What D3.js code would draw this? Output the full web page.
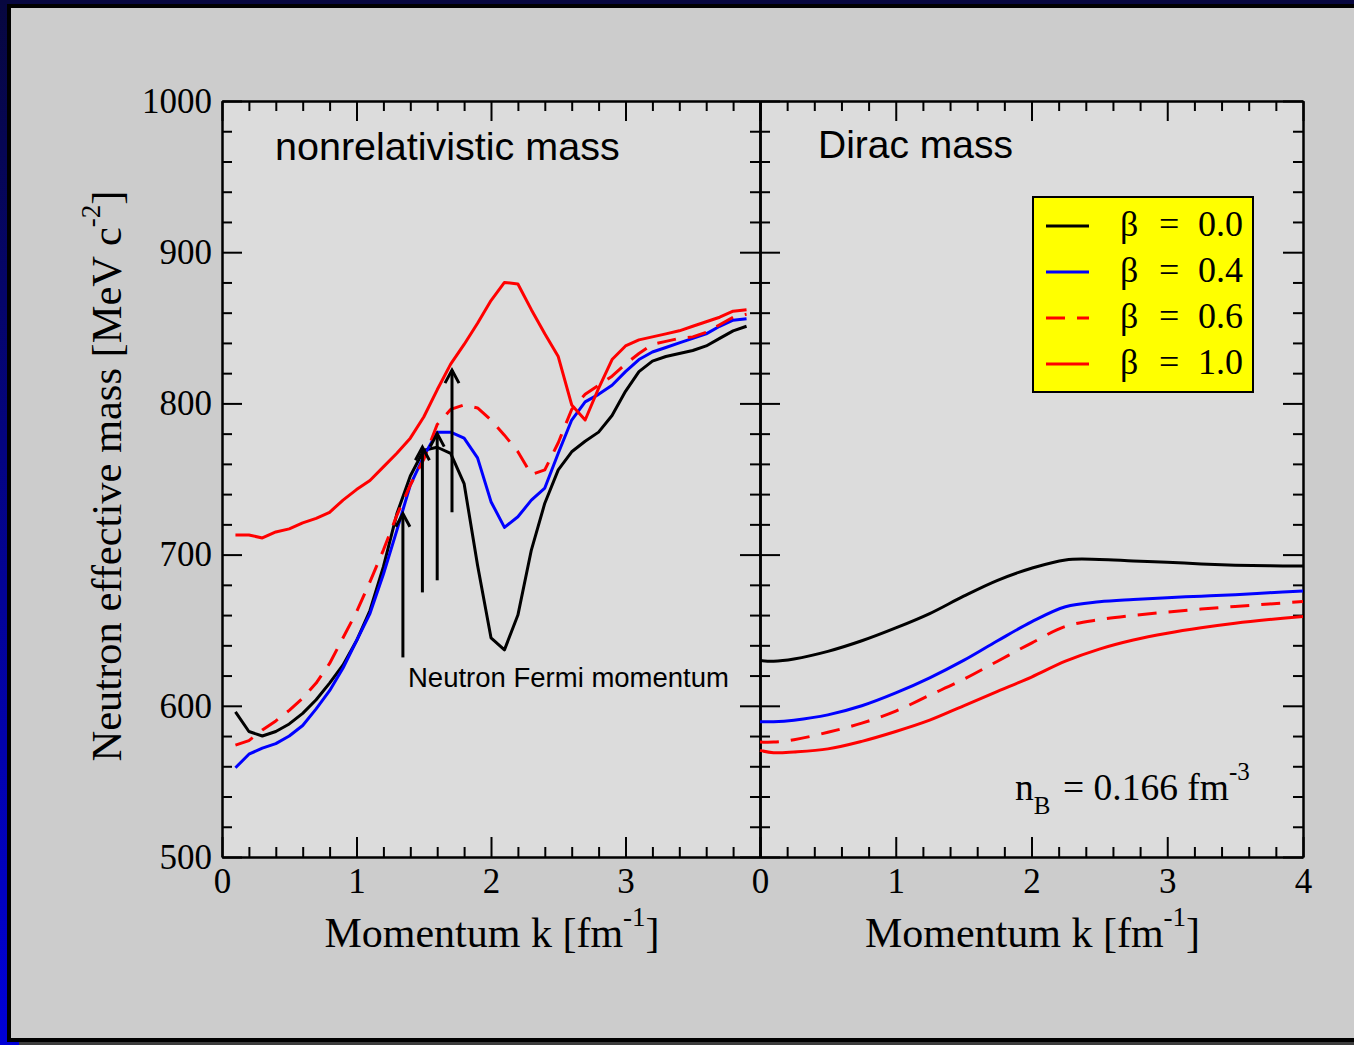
<!DOCTYPE html>
<html>
<head>
<meta charset="utf-8">
<script src="https://cdn.jsdelivr.net/npm/d3@7"></script>
<style>
  body { margin: 0; background: #cccccc; }
  svg { display: block; }
</style>
</head>
<body>
<svg id="chart" width="1354" height="1045"></svg>
<script>
// ---- data ----
// left panel: nonrelativistic mass, k in fm^-1, mass in MeV c^-2
const kLeft = [0.1, 0.2, 0.3, 0.4, 0.5, 0.6, 0.7, 0.8, 0.9, 1.0,
               1.1, 1.2, 1.3, 1.4, 1.5, 1.6, 1.7, 1.8, 1.9, 2.0,
               2.1, 2.2, 2.3, 2.4, 2.5, 2.6, 2.7, 2.8, 2.9, 3.0,
               3.1, 3.2, 3.3, 3.4, 3.5, 3.6, 3.7, 3.8, 3.9];
const nrBeta00 = [596, 583, 580, 583, 588, 595, 604, 615, 627, 643,
                  663, 692, 727, 752, 769, 771, 767, 747, 693, 645,
                  637, 660, 703, 734, 756, 768, 775, 781, 792, 808,
                  821, 828, 831, 833, 835, 838, 843, 848, 851];
const nrBeta04 = [559, 568, 572, 575, 580, 587, 598, 610, 625, 643,
                  661, 687, 716, 746, 765, 781, 781, 777, 764, 735,
                  718, 725, 736, 744, 767, 789, 801, 806, 812, 821,
                  829, 834, 837, 840, 843, 846, 851, 855, 856];
const nrBeta06 = [574, 577, 584, 590, 597, 605, 615, 628, 645, 662,
                  682, 703, 726, 746, 763, 786, 796, 799, 797, 789,
                  779, 768, 753, 756, 774, 796, 806, 812, 818, 826,
                  833, 839, 841, 843, 844, 847, 852, 857, 859];
const nrBeta10 = [713, 713, 711, 715, 717, 721, 724, 728, 736, 743,
                  749, 758, 767, 777, 791, 809, 826, 839, 853, 868,
                  880, 879, 862, 846, 831, 799, 789, 810, 829, 838,
                  842, 844, 846, 848, 851, 854, 857, 861, 862];

// right panel: Dirac mass
const kRight = [0, 0.1, 0.25, 0.5, 0.75, 1.0, 1.25, 1.5, 1.75, 2.0,
                2.25, 2.5, 2.75, 3.0, 3.25, 3.5, 3.75, 4.0];
const diracBeta00 = [630, 629.5, 631, 636, 643, 651.5, 661, 672.5, 683, 691,
                     696.5, 696.8, 695.8, 695, 693.8, 693, 692.6, 692.5];
const diracBeta04 = [589.5, 589.5, 590.5, 594, 600, 608.5, 618.5, 630, 643, 655.5,
                     665.5, 668.8, 670.3, 671.5, 672.5, 673.5, 674.8, 676];
const diracBeta06 = [576, 576, 577.5, 582.5, 588.5, 596.5, 607, 617.5, 629.5, 641.5,
                     652.5, 657, 659.8, 662, 664, 665.7, 667.3, 669];
const diracBeta10 = [570.5, 569, 569.5, 571.5, 576.5, 583, 590.5, 600, 609.5, 619,
                     629.5, 637.5, 643.5, 648, 651.6, 654.6, 657, 659];

const betaLabels = ["0.0", "0.4", "0.6", "1.0"];

// neutron Fermi momentum arrows
const fermiK = [1.345, 1.49, 1.6, 1.71];
const arrowFrom = [632, 675, 683, 728];
const arrowTo = [727, 771, 780, 822];

const xMajor = [0, 1, 2, 3, 4];
const yMajor = [500, 600, 700, 800, 900, 1000];

// ---- layout ----
const svg = d3.select('#chart');
const plotTop = 101, plotBottom = 857;
const leftX0 = 222, mid = 760, rightX1 = 1303;

const styles = [
  { color: '#000000', dash: null },
  { color: '#0000ff', dash: null },
  { color: '#ff0000', dash: '19,12' },
  { color: '#ff0000', dash: null }
];

// frame around the picture
let defs = svg.append('defs');
let grad = defs.append('linearGradient')
    .attr('id', 'edge')
    .attr('x1', 0).attr('y1', 0).attr('x2', 0).attr('y2', 1);
grad.append('stop').attr('offset', '0%').attr('stop-color', '#07073f');
grad.append('stop').attr('offset', '100%').attr('stop-color', '#0000d8');

svg.append('rect').attr('width', 1354).attr('height', 1045).attr('fill', 'url(#edge)');
svg.append('rect').attr('x', 7).attr('y', 4).attr('width', 1347).attr('height', 1038).attr('fill', '#000');
svg.append('rect').attr('x', 19).attr('y', 1042).attr('width', 1335).attr('height', 3).attr('fill', '#3c3c3c');
svg.append('rect').attr('x', 11).attr('y', 8).attr('width', 1343).attr('height', 1030).attr('fill', '#cccccc');

// arrow head
defs.append('marker')
    .attr('id', 'head')
    .attr('markerUnits', 'userSpaceOnUse')
    .attr('viewBox', '-16 -10 20 20')
    .attr('markerWidth', 20).attr('markerHeight', 20)
    .attr('refX', 0).attr('refY', 0)
    .attr('orient', 'auto')
    .append('path')
    .attr('d', 'M-13,-7L0,0L-13,7')
    .attr('fill', 'none')
    .attr('stroke', '#000')
    .attr('stroke-width', 3);

let yScale = d3.scaleLinear().domain([500, 1000]).range([plotBottom, plotTop]);
let xLeft = d3.scaleLinear().domain([0, 4]).range([leftX0, mid]);
let xRight = d3.scaleLinear().domain([0, 4]).range([mid, rightX1]);

// plot backgrounds
svg.append('rect')
    .attr('x', leftX0).attr('y', plotTop)
    .attr('width', rightX1 - leftX0).attr('height', plotBottom - plotTop)
    .attr('fill', '#dcdcdc');

let xMinor = d3.range(0.2, 4, 0.2).filter(v => Math.abs(v - Math.round(v)) > 1e-6);
let yMinor = d3.range(520, 1000, 20).filter(v => v % 100 !== 0);

function styleAxis(g) {
    g.selectAll('path.domain').attr('stroke', '#000').attr('stroke-width', 2);
    g.selectAll('.tick line').attr('stroke', '#000').attr('stroke-width', 2);
    g.selectAll('.tick text')
        .attr('fill', '#000')
        .style('font-family', '"Liberation Serif", "Times New Roman", serif')
        .style('font-size', '35px');
}

function drawFrame(xScale, xLabels, yLabels) {
    let x0 = xScale.range()[0], x1 = xScale.range()[1];

    // bottom
    let b = svg.append('g').attr('transform', 'translate(0,' + plotBottom + ')');
    b.call(d3.axisBottom(xScale).tickValues(xMinor).tickSize(-10).tickSizeOuter(0).tickFormat(''));
    b.append('g').call(d3.axisBottom(xScale).tickValues(xMajor).tickSize(-20).tickSizeOuter(0)
        .tickPadding(11).tickFormat(d => xLabels.includes(d) ? d : ''));
    styleAxis(b);

    // top
    let t = svg.append('g').attr('transform', 'translate(0,' + plotTop + ')');
    t.call(d3.axisTop(xScale).tickValues(xMinor).tickSize(-10).tickSizeOuter(0).tickFormat(''));
    t.append('g').call(d3.axisTop(xScale).tickValues(xMajor).tickSize(-20).tickSizeOuter(0).tickFormat(''));
    styleAxis(t);

    // left
    let l = svg.append('g').attr('transform', 'translate(' + x0 + ',0)');
    l.call(d3.axisLeft(yScale).tickValues(yMinor).tickSize(-10).tickSizeOuter(0).tickFormat(''));
    l.append('g').call(d3.axisLeft(yScale).tickValues(yMajor).tickSize(-20).tickSizeOuter(0)
        .tickPadding(10).tickFormat(d => yLabels ? d : ''));
    styleAxis(l);

    // right
    let r = svg.append('g').attr('transform', 'translate(' + x1 + ',0)');
    r.call(d3.axisRight(yScale).tickValues(yMinor).tickSize(-10).tickSizeOuter(0).tickFormat(''));
    r.append('g').call(d3.axisRight(yScale).tickValues(yMajor).tickSize(-20).tickSizeOuter(0).tickFormat(''));
    styleAxis(r);
}

drawFrame(xLeft, [0, 1, 2, 3], true);
drawFrame(xRight, [0, 1, 2, 3, 4], false);

// curves
function drawSeries(xScale, ks, series, curve) {
    let line = d3.line()
        .curve(curve)
        .x(d => xScale(d[0]))
        .y(d => yScale(d[1]));
    series.forEach((vals, i) => {
        svg.append('path')
            .datum(ks.map((k, j) => [k, vals[j]]))
            .attr('d', line)
            .attr('fill', 'none')
            .attr('stroke', styles[i].color)
            .attr('stroke-width', 3)
            .attr('stroke-dasharray', styles[i].dash)
            .attr('stroke-linejoin', 'round');
    });
}

drawSeries(xLeft, kLeft, [nrBeta00, nrBeta04, nrBeta06, nrBeta10], d3.curveLinear);
drawSeries(xRight, kRight, [diracBeta00, diracBeta04, diracBeta06, diracBeta10], d3.curveCatmullRom.alpha(0.5));

// Fermi momentum arrows
fermiK.forEach((k, i) => {
    svg.append('line')
        .attr('x1', xLeft(k)).attr('x2', xLeft(k))
        .attr('y1', yScale(arrowFrom[i])).attr('y2', yScale(arrowTo[i]))
        .attr('stroke', '#000')
        .attr('stroke-width', 3)
        .attr('marker-end', 'url(#head)');
});

const sans = '"Liberation Sans", Arial, sans-serif';
const serif = '"Liberation Serif", "Times New Roman", serif';

svg.append('text')
    .attr('x', 408).attr('y', 687)
    .style('font-family', sans).style('font-size', '27.5px')
    .text('Neutron Fermi momentum');

svg.append('text')
    .attr('x', 275).attr('y', 160)
    .style('font-family', sans).style('font-size', '39.5px')
    .text('nonrelativistic mass');

svg.append('text')
    .attr('x', 818).attr('y', 158)
    .style('font-family', sans).style('font-size', '39px')
    .text('Dirac mass');

// axis titles
function momentumTitle(cx) {
    let t = svg.append('text')
        .attr('x', cx).attr('y', 947)
        .attr('text-anchor', 'middle')
        .style('font-family', serif).style('font-size', '42px');
    t.append('tspan').text('Momentum k [fm');
    t.append('tspan').attr('dy', -21).style('font-size', '27px').text('-1');
    t.append('tspan').attr('dy', 21).text(']');
}
momentumTitle((leftX0 + mid) / 2 + 1);
momentumTitle((mid + rightX1) / 2 + 1);

let yt = svg.append('text')
    .attr('transform', 'translate(121,' + 476 + ') rotate(-90)')
    .attr('text-anchor', 'middle')
    .style('font-family', serif).style('font-size', '42.5px');
yt.append('tspan').text('Neutron effective mass [MeV c');
yt.append('tspan').attr('dy', -21).style('font-size', '27px').text('-2');
yt.append('tspan').attr('dy', 21).text(']');

// density label
let nb = svg.append('text')
    .attr('x', 1015).attr('y', 800)
    .style('font-family', serif).style('font-size', '37.5px');
nb.append('tspan').text('n');
nb.append('tspan').attr('dy', 14).style('font-size', '25px').text('B');
nb.append('tspan').attr('x', 1063).attr('dy', -14).text('= 0.166 fm');
nb.append('tspan').attr('dy', -20).style('font-size', '25px').text('-3');

// legend
let legend = svg.append('g');
legend.append('rect')
    .attr('x', 1033).attr('y', 197)
    .attr('width', 220).attr('height', 195)
    .attr('fill', '#ffff00')
    .attr('stroke', '#000')
    .attr('stroke-width', 2);

betaLabels.forEach((lab, i) => {
    let base = 236 + i * 46;
    legend.append('line')
        .attr('x1', 1046).attr('x2', 1089)
        .attr('y1', base - 10).attr('y2', base - 10)
        .attr('stroke', styles[i].color)
        .attr('stroke-width', 3)
        .attr('stroke-dasharray', styles[i].dash);
    let t = legend.append('text')
        .attr('y', base)
        .style('font-family', serif).style('font-size', '36px');
    t.append('tspan').attr('x', 1120).text('\u03B2');
    t.append('tspan').attr('x', 1159).text('=');
    t.append('tspan').attr('x', 1198).text(lab);
});
</script>
</body>
</html>
